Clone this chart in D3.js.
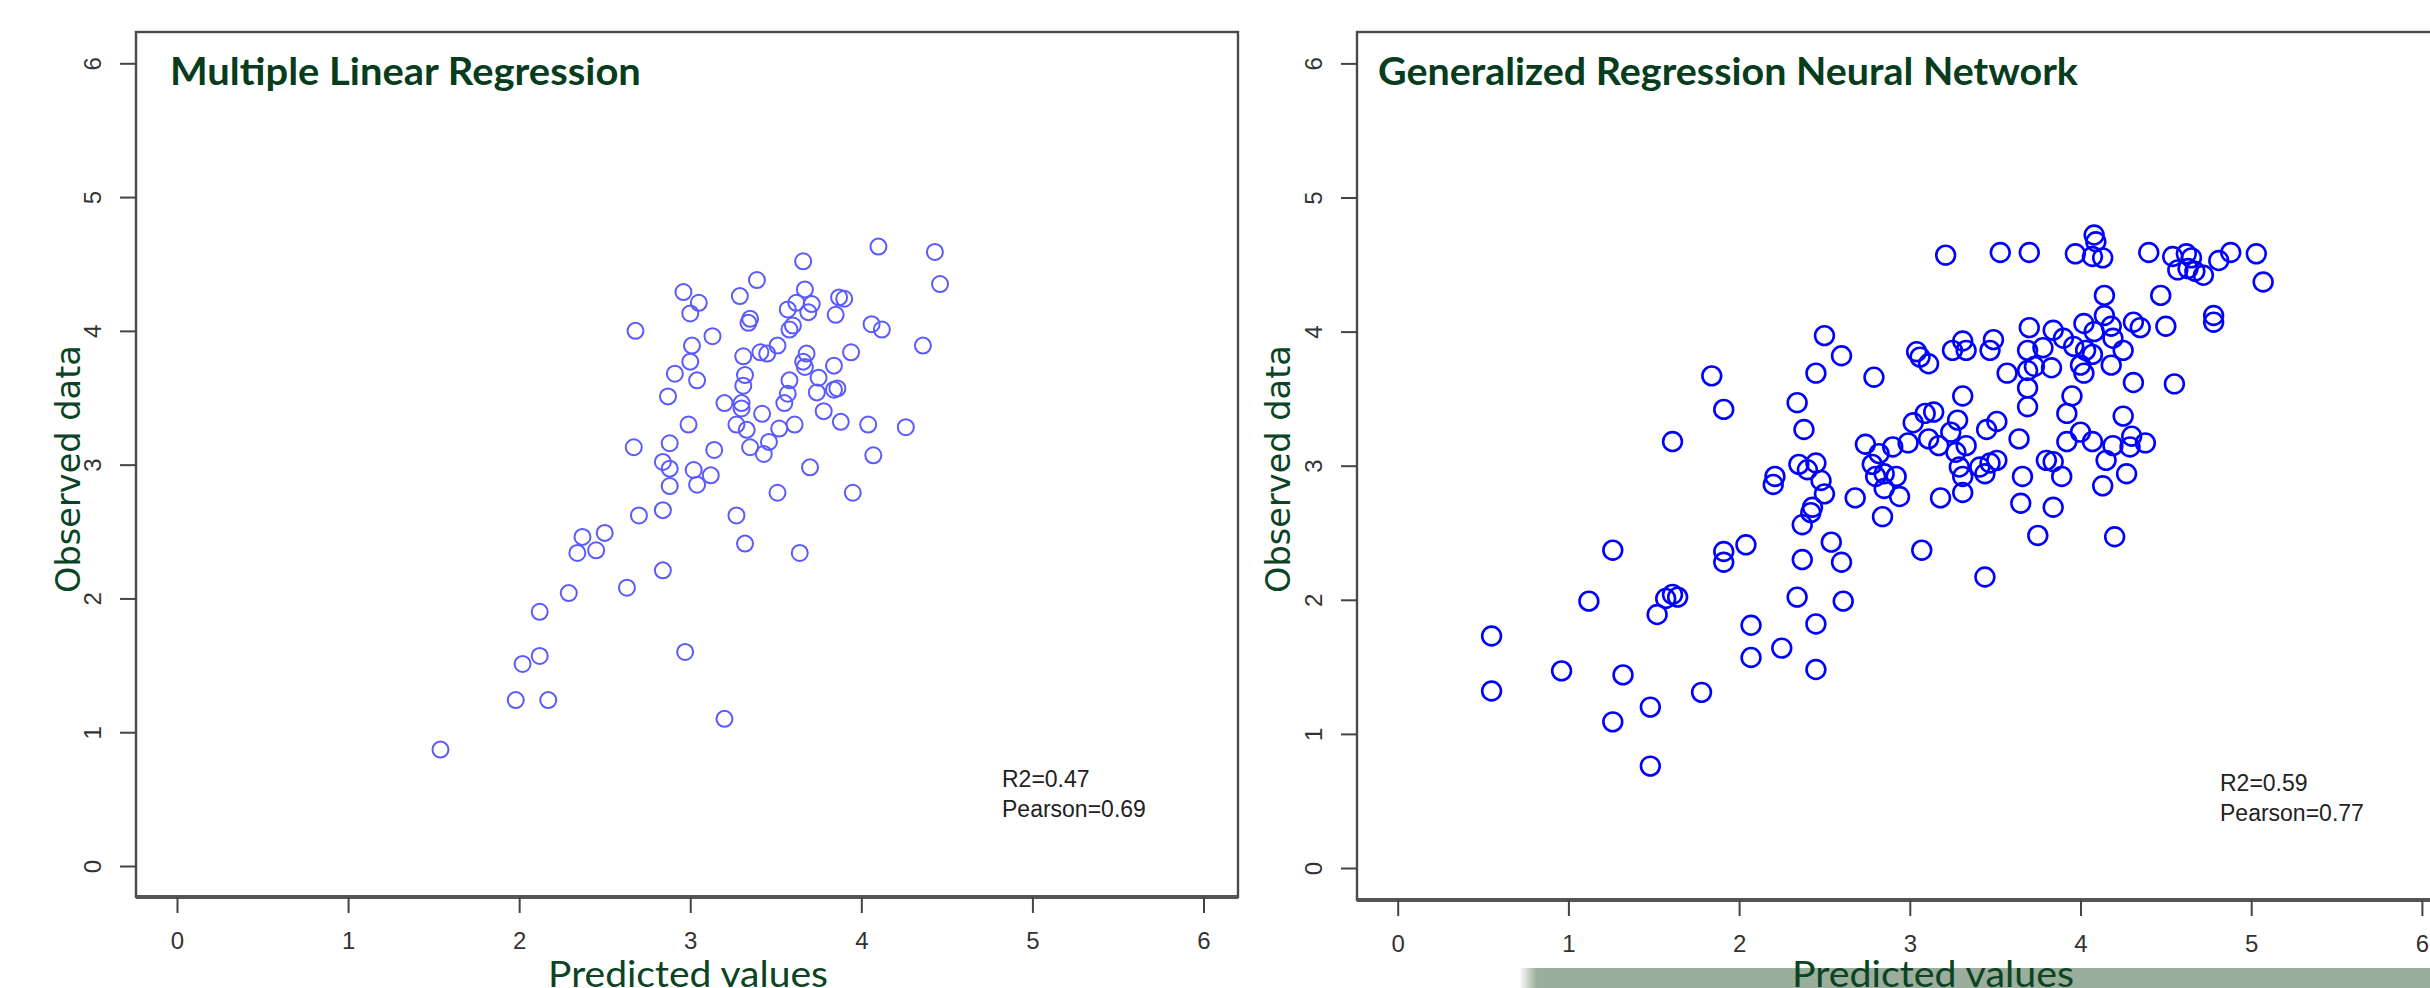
<!DOCTYPE html>
<html><head><meta charset="utf-8">
<script src="https://cdn.jsdelivr.net/npm/d3@7"></script>
<style>html,body{margin:0;padding:0;background:#fff;overflow:hidden}</style>
</head><body>
<svg id="chart" width="2430" height="988"></svg>
<script>
// ---------------- data ----------------
const xTicks = [0, 1, 2, 3, 4, 5, 6];
const yTicks = [0, 1, 2, 3, 4, 5, 6];

const panelTitles = ["Multiple Linear Regression", "Generalized Regression Neural Network"];
const statLines = [["R2=0.47", "Pearson=0.69"], ["R2=0.59", "Pearson=0.77"]];
const xAxisTitle = "Predicted values";
const yAxisTitle = "Observed data";

// Multiple Linear Regression: predicted (x) vs observed (y)
const mlrPredicted = [
 2.96,3.05,3.00,2.68,3.01,3.00,2.91,3.04,2.87,2.99,2.67,2.88,2.84,2.88,3.02,3.04,2.88,2.70,2.84,
 4.10,4.43,3.66,4.46,3.39,3.29,3.67,3.87,3.90,3.71,3.62,3.57,3.69,3.85,3.35,3.34,4.06,4.12,3.60,3.58,
 4.36,3.13,3.51,3.41,3.45,3.31,3.68,3.66,3.67,3.94,3.84,3.32,3.31,3.58,3.75,3.57,3.74,3.86,3.84,3.55,
 3.20,3.30,3.30,3.42,3.78,3.27,3.33,3.52,3.61,3.88,4.04,4.26,3.14,3.35,3.46,3.43,4.07,3.70,3.12,3.51,
 3.95,3.27,
 2.37,2.50,2.34,2.45,2.84,2.63,2.29,2.12,2.97,2.12,2.02,1.98,2.17,1.54,
 3.32,3.64,3.20
];
const mlrObserved = [
 4.29,4.21,4.13,4.00,3.89,3.77,3.68,3.63,3.51,3.30,3.13,3.16,3.02,2.97,2.96,2.85,2.84,2.62,2.66,
 4.63,4.59,4.52,4.35,4.38,4.26,4.31,4.25,4.24,4.20,4.21,4.16,4.14,4.12,4.09,4.06,4.05,4.01,4.04,4.01,
 3.89,3.96,3.89,3.84,3.83,3.81,3.83,3.77,3.73,3.84,3.74,3.67,3.59,3.63,3.65,3.53,3.54,3.57,3.56,3.46,
 3.46,3.46,3.42,3.38,3.40,3.30,3.26,3.27,3.30,3.32,3.30,3.28,3.11,3.13,3.17,3.08,3.07,2.98,2.92,2.79,
 2.79,2.62,
 2.46,2.49,2.34,2.36,2.21,2.08,2.04,1.90,1.60,1.57,1.51,1.24,1.24,0.87,
 2.41,2.34,1.10
];

// Generalized Regression Neural Network: predicted (x) vs observed (y)
const grnnPredicted = [
 1.84,1.91,1.61,
 3.21,3.53,3.70,2.50,2.60,2.45,2.79,2.34,2.38,3.04,3.06,3.11,3.25,3.31,3.33,3.49,3.47,3.70,3.69,3.84,
 3.90,3.78,3.57,3.69,3.73,3.83,3.69,3.69,3.31,3.02,3.09,3.14,3.28,3.45,3.51,3.64,3.92,3.92,2.74,2.82,
 2.90,2.99,3.11,3.17,3.24,3.27,3.33,2.78,2.85,2.92,2.80,2.85,2.35,2.40,2.45,2.48,2.21,2.20,2.50,2.68,
 2.94,3.18,3.29,3.31,3.31,3.41,3.47,3.51,3.44,3.66,3.80,3.84,3.89,3.65,3.84,
 4.08,4.09,3.97,4.07,4.13,4.40,4.54,4.62,4.65,4.57,4.63,4.67,4.72,4.81,4.88,5.03,5.07,4.14,4.47,4.78,
 4.78,4.50,4.02,4.14,4.18,4.31,4.35,4.19,4.25,4.08,3.96,4.03,4.07,4.00,4.02,4.18,4.31,4.55,3.95,4.25,
 4.00,4.07,4.19,4.30,4.29,4.38,4.15,4.27,4.13,
 1.26,1.12,0.55,0.55,0.96,1.32,1.26,1.48,1.48,1.78,1.52,1.57,1.61,1.64,1.91,1.91,2.04,2.07,2.07,
 2.43,2.42,2.84,2.37,3.75,4.20,2.37,2.54,2.60,3.07,3.44,2.34,2.61,2.45,2.25,2.45
];
const grnnObserved = [
 3.67,3.42,3.18,
 4.57,4.59,4.59,3.97,3.82,3.69,3.66,3.47,3.27,3.85,3.81,3.76,3.86,3.93,3.86,3.94,3.86,4.03,3.86,4.01,
 3.95,3.88,3.69,3.71,3.74,3.73,3.58,3.44,3.52,3.32,3.39,3.40,3.34,3.27,3.33,3.20,3.39,3.18,3.16,3.09,
 3.14,3.17,3.20,3.15,3.25,3.10,3.15,3.01,2.94,2.92,2.92,2.83,3.01,2.97,3.02,2.89,2.92,2.86,2.79,2.76,
 2.77,2.76,2.99,2.92,2.80,2.99,3.02,3.04,2.94,2.92,3.04,3.03,2.92,2.72,2.69,
 4.72,4.67,4.58,4.56,4.55,4.59,4.56,4.58,4.55,4.46,4.47,4.45,4.42,4.53,4.59,4.58,4.37,4.27,4.27,4.12,
 4.07,4.04,4.06,4.12,4.04,4.07,4.03,3.95,3.86,4.00,3.89,3.86,3.83,3.75,3.69,3.75,3.62,3.61,3.52,3.37,
 3.25,3.18,3.15,3.22,3.14,3.17,3.04,2.94,2.85,
 2.37,1.99,1.73,1.32,1.47,1.44,1.09,1.20,0.76,1.31,1.89,2.01,2.04,2.02,2.36,2.28,2.41,1.81,1.57,
 2.69,2.65,2.62,2.56,2.48,2.47,2.30,2.43,2.28,2.37,2.17,2.02,1.99,1.82,1.64,1.48
];

// ---------------- layout ----------------
const svg = d3.select("#chart");
const green = "#0b4424";
const panels = [
  { box: {l:136, t:32, r:1238, b:897}, xr:[177,1203.5], yr:[866,63.3],
    px: mlrPredicted, py: mlrObserved, title: panelTitles[0], stats: statLines[0],
    titleX:170, titleW:471, statX:1002, statY:787,
    xtX:688, xtW:280, ytX:80,
    stroke:"#5a5aff", sw:2.0, r:8.0 },
  { box: {l:1357, t:32, r:2475, b:900}, xr:[1397.7,2421.9], yr:[868,63.4],
    px: grnnPredicted, py: grnnObserved, title: panelTitles[1], stats: statLines[1],
    titleX:1378, titleW:700, statX:2220, statY:791,
    xtX:1933, xtW:282, ytX:1290,
    stroke:"#0000ff", sw:2.6, r:9.4 }
];

// grey-green band behind the right axis title
const defs = svg.append("defs");
const grad = defs.append("linearGradient").attr("id","bandGrad")
  .attr("gradientUnits","userSpaceOnUse").attr("x1",1519).attr("x2",1537).attr("y1",0).attr("y2",0);
grad.append("stop").attr("offset",0).attr("stop-color","#ffffff");
grad.append("stop").attr("offset",1).attr("stop-color","#9bad9b");
svg.append("rect").attr("x",1519).attr("y",968).attr("width",911).attr("height",20).attr("fill","url(#bandGrad)");

panels.forEach(p => {
  const g = svg.append("g");
  const x = d3.scaleLinear().domain([0,6]).range(p.xr);
  const y = d3.scaleLinear().domain([0,6]).range(p.yr);
  const B = p.box;

  // box
  g.append("rect").attr("x",B.l).attr("y",B.t).attr("width",B.r-B.l).attr("height",B.b-B.t)
    .attr("fill","none").attr("stroke","#4a4a4a").attr("stroke-width",2.4);
  g.append("line").attr("x1",B.l).attr("x2",B.r).attr("y1",B.b).attr("y2",B.b)
    .attr("stroke","#555").attr("stroke-width",4);

  // x axis
  const xa = g.append("g").attr("transform",`translate(0,${B.b})`)
    .call(d3.axisBottom(x).tickValues(xTicks).tickSize(16).tickPadding(19).tickFormat(d3.format("d")));
  xa.select(".domain").remove();
  xa.selectAll(".tick line").attr("stroke","#444").attr("stroke-width",2);
  xa.selectAll(".tick text").attr("fill","#333").attr("font-family","'Liberation Sans', Arial, sans-serif")
    .attr("font-size",24);

  // y axis
  const ya = g.append("g").attr("transform",`translate(${B.l},0)`)
    .call(d3.axisLeft(y).tickValues(yTicks).tickSize(16).tickFormat(d3.format("d")));
  ya.select(".domain").remove();
  ya.selectAll(".tick line").attr("stroke","#444").attr("stroke-width",2);
  ya.selectAll(".tick text").attr("fill","#333").attr("font-family","'Liberation Sans', Arial, sans-serif")
    .attr("font-size",24).attr("x",null).attr("dy",null).attr("text-anchor","middle")
    .attr("transform","translate(-35,0) rotate(-90)");

  // points
  g.append("g").selectAll("circle").data(p.px.map((v,i)=>[v,p.py[i]])).join("circle")
    .attr("cx",d=>x(d[0])).attr("cy",d=>y(d[1])).attr("r",p.r)
    .attr("fill","none").attr("stroke",p.stroke).attr("stroke-width",p.sw);

  // title
  const t = g.append("text").text(p.title).attr("font-family","Lato, 'Open Sans', sans-serif")
    .attr("font-weight",700).attr("font-size",38).attr("fill","#073d1d");
  const tw = t.node().getComputedTextLength();
  t.attr("transform",`translate(${p.titleX},85) scale(${p.titleW/tw},1)`);

  // stats
  p.stats.forEach((s,i)=>{
    g.append("text").text(s).attr("x",p.statX).attr("y",p.statY+i*30)
      .attr("font-family","'Liberation Sans', Arial, sans-serif").attr("font-size",23).attr("fill","#222");
  });

  // x axis title
  const xt = g.append("text").text(xAxisTitle).attr("font-family","Lato, 'Open Sans', sans-serif")
    .attr("font-size",37).attr("fill",green).attr("text-anchor","middle");
  const xw = xt.node().getComputedTextLength();
  xt.attr("transform",`translate(${p.xtX},987) scale(${p.xtW/xw},1)`);

  // y axis title
  const yt = g.append("text").text(yAxisTitle).attr("font-family","'DejaVu Sans', Verdana, sans-serif")
    .attr("font-size",32).attr("fill",green).attr("text-anchor","middle");
  const yw = yt.node().getComputedTextLength();
  yt.attr("font-size",32*248/yw);
  yt.attr("transform",`translate(${p.ytX},469) rotate(-90)`);
});
</script>
</body></html>
